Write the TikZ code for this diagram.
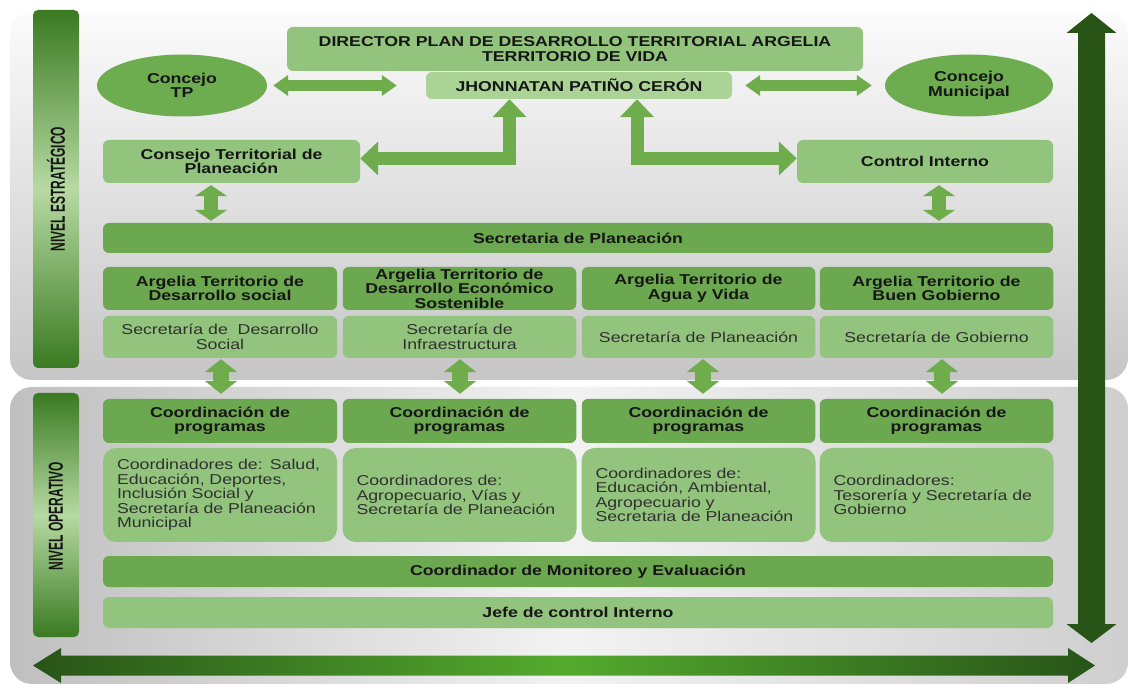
\documentclass[tikz,border=0pt]{standalone}
\usepackage{fontspec}
\usepackage{graphicx}
\setmainfont[FakeStretch=1.24]{Liberation Sans}
\newfontfamily\narrowfont{Liberation Sans}
\usetikzlibrary{arrows.meta,shapes.geometric}
\definecolor{gdark}{RGB}{107,168,79}
\definecolor{glight}{RGB}{147,196,125}
\definecolor{glighter}{RGB}{172,211,150}
\definecolor{garrow}{RGB}{110,172,76}
\definecolor{gellipse}{RGB}{110,172,80}
\definecolor{gdeep}{RGB}{40,84,24}
\definecolor{gbright}{RGB}{84,170,46}
\definecolor{barlight}{RGB}{182,218,162}
\definecolor{bardark}{RGB}{58,122,34}
\definecolor{txt}{RGB}{22,22,22}
\definecolor{txtreg}{RGB}{48,48,48}
\tikzset{
  box/.style={rounded corners=6pt, inner sep=0pt, align=center, text=txt,
    font=\fontsize{14.3}{14.5}\selectfont\bfseries},
  dbox/.style={box, fill=gdark},
  lbox/.style={box, fill=glight},
  regbox/.style={box, fill=glight, font=\fontsize{14.3}{14.5}\selectfont\mdseries, text=txtreg},
  coordbox/.style={regbox, rounded corners=13pt, align=left, text width=206pt,
    inner xsep=14pt, minimum width=233.5pt, minimum height=94pt},
  ell/.style={ellipse, fill=gellipse, inner sep=0pt, align=center, text=txt,
    font=\fontsize{14.3}{14.5}\selectfont\bfseries, minimum width=170pt, minimum height=62pt},
  fa/.style n args={3}{draw=garrow, line width=#1, line join=miter,
    {Triangle[length=#2,width=#3]}-{Triangle[length=#2,width=#3]}},
  nivel/.style={rotate=90, inner sep=0pt, text=txt, font=\narrowfont\fontsize{15}{15}\selectfont\bfseries}
}
\begin{document}
\begin{tikzpicture}[x=1pt,y=-1pt]
\useasboundingbox (0,0) rectangle (1128,684);
\fill[white] (0,0) rectangle (1128,684);
% panels
\shade[top color=gray!3, bottom color=gray!45, rounded corners=22pt] (10,12) rectangle (1128,380);
\shade[left color=gray!50, right color=gray!38, middle color=gray!10, rounded corners=22pt] (10,387) rectangle (1128,684);
% level bars
\shade[top color=bardark, bottom color=bardark, middle color=barlight, rounded corners=5pt] (33,10) rectangle (79,368);
\shade[top color=bardark, bottom color=bardark, middle color=barlight, rounded corners=5pt] (33,393) rectangle (79,637);
\node[nivel] (nest) at (56,189) {\scalebox{0.8}[1.35]{NIVEL ESTRATÉGICO}};
\node[nivel] (nope) at (56,516) {\scalebox{0.8}[1.35]{NIVEL OPERATIVO}};
% big arrows
\shade[top color=gdeep, middle color=gbright, bottom color=gdeep]
  (1091.5,13) -- (1116.5,33) -- (1105,33) -- (1105,624) -- (1116.5,624) -- (1091.5,643)
  -- (1066.5,624) -- (1078,624) -- (1078,33) -- (1066.5,33) -- cycle;
\shade[left color=gdeep, right color=gdeep, middle color=gbright]
  (33,665.5) -- (61,648) -- (61,655.5) -- (1068,655.5) -- (1068,648) -- (1095,665.5)
  -- (1068,683) -- (1068,675.5) -- (61,675.5) -- (61,683) -- cycle;
% top level
\node[lbox, minimum width=576pt, minimum height=44pt] (dir) at (575,49)
  {DIRECTOR PLAN DE DESARROLLO TERRITORIAL ARGELIA\\TERRITORIO DE VIDA};
\node[box, fill=glighter, minimum width=306pt, minimum height=27pt] (jhon) at (579,85.5)
  {JHONNATAN PATIÑO CERÓN};
\node[ell] (tp) at (182,85.5) {Concejo\\TP};
\node[ell, minimum width=168pt] (cm) at (969,85.5) {Concejo\\Municipal};
\node[lbox, minimum width=257pt, minimum height=43pt] (ctp) at (231.5,161.5)
  {Consejo Territorial de\\Planeación};
\node[lbox, minimum width=256pt, minimum height=43pt] (ci) at (925,161.5) {Control Interno};
\node[dbox, minimum width=950pt, minimum height=30pt] (sp) at (578,238) {Secretaria de Planeación};
% columns: headers
\node[dbox, minimum width=234pt, minimum height=43pt] (h1) at (220,288.5) {Argelia Territorio de\\Desarrollo social};
\node[dbox, minimum width=233.5pt, minimum height=43pt] (h2) at (459.5,288.5) {Argelia Territorio de\\Desarrollo Económico\\Sostenible};
\node[dbox, minimum width=233.5pt, minimum height=43pt] (h3) at (698.5,288.5) {Argelia Territorio de\\Agua y Vida};
\node[dbox, minimum width=233.5pt, minimum height=43pt] (h4) at (936.5,288.5) {Argelia Territorio de\\Buen Gobierno};
% secretarias
\node[regbox, minimum width=234pt, minimum height=42pt] (s1) at (220,337) {Secretaría de \ Desarrollo\\Social};
\node[regbox, minimum width=233.5pt, minimum height=42pt] (s2) at (459.5,337) {Secretaría de\\Infraestructura};
\node[regbox, minimum width=233.5pt, minimum height=42pt] (s3) at (698.5,337) {Secretaría de Planeación};
\node[regbox, minimum width=233.5pt, minimum height=42pt] (s4) at (936.5,337) {Secretaría de Gobierno};
% coordinacion
\node[dbox, minimum width=234pt, minimum height=44pt] (k1) at (220,421) {Coordinación de\\programas};
\node[dbox, minimum width=233.5pt, minimum height=44pt] (k2) at (459.5,421) {Coordinación de\\programas};
\node[dbox, minimum width=233.5pt, minimum height=44pt] (k3) at (698.5,421) {Coordinación de\\programas};
\node[dbox, minimum width=233.5pt, minimum height=44pt] (k4) at (936.5,421) {Coordinación de\\programas};
% coordinadores
\node[coordbox] (d1) at (220,495) {Coordinadores de: Salud,\\Educación, Deportes,\\Inclusión Social y\\Secretaría de Planeación\\Municipal};
\node[coordbox] (d2) at (459.5,495) {Coordinadores de:\\Agropecuario, Vías y\\Secretaría de Planeación};
\node[coordbox] (d3) at (698.5,495) {Coordinadores de:\\Educación, Ambiental,\\Agropecuario y\\Secretaria de Planeación};
\node[coordbox] (d4) at (936.5,495) {Coordinadores:\\Tesorería y Secretaría de\\Gobierno};
% bottom bars
\node[dbox, minimum width=950pt, minimum height=31pt] (mon) at (578,571.5) {Coordinador de Monitoreo y Evaluación};
\node[lbox, minimum width=950pt, minimum height=31pt] (jefe) at (578,612.5) {Jefe de control Interno};
% helper x positions
\coordinate (xa) at (211,0);
\coordinate (xb) at (939,0);
\coordinate (l1) at (221,0);
\coordinate (l2) at (460,0);
\coordinate (l3) at (703,0);
\coordinate (l4) at (942,0);
% connectors
\draw[fa={11pt}{15pt}{20pt}] ([xshift=6pt]tp.east) -- ([xshift=-29pt]jhon.west);
\draw[fa={11pt}{15pt}{20pt}] ([xshift=13pt]jhon.east) -- ([xshift=-13pt]cm.west);
\draw[fa={13pt}{18pt}{33pt}] ([xshift=-69.5pt]jhon.south) |- ([yshift=3pt]ctp.east);
\draw[fa={13pt}{18pt}{33pt}] ([xshift=58pt]jhon.south) |- ([yshift=3pt]ci.west);
\draw[fa={14pt}{11pt}{32pt}, shorten <=2pt, shorten >=2pt] (ctp.south -| xa) -- (sp.north -| xa);
\draw[fa={14pt}{11pt}{32pt}, shorten <=2pt, shorten >=2pt] (ci.south -| xb) -- (sp.north -| xb);
\draw[fa={16pt}{13pt}{32pt}, shorten <=1pt, shorten >=5pt] (s1.south -| l1) -- (k1.north -| l1);
\draw[fa={16pt}{13pt}{32pt}, shorten <=1pt, shorten >=5pt] (s2.south -| l2) -- (k2.north -| l2);
\draw[fa={16pt}{13pt}{32pt}, shorten <=1pt, shorten >=5pt] (s3.south -| l3) -- (k3.north -| l3);
\draw[fa={16pt}{13pt}{32pt}, shorten <=1pt, shorten >=5pt] (s4.south -| l4) -- (k4.north -| l4);
\end{tikzpicture}
\end{document}
